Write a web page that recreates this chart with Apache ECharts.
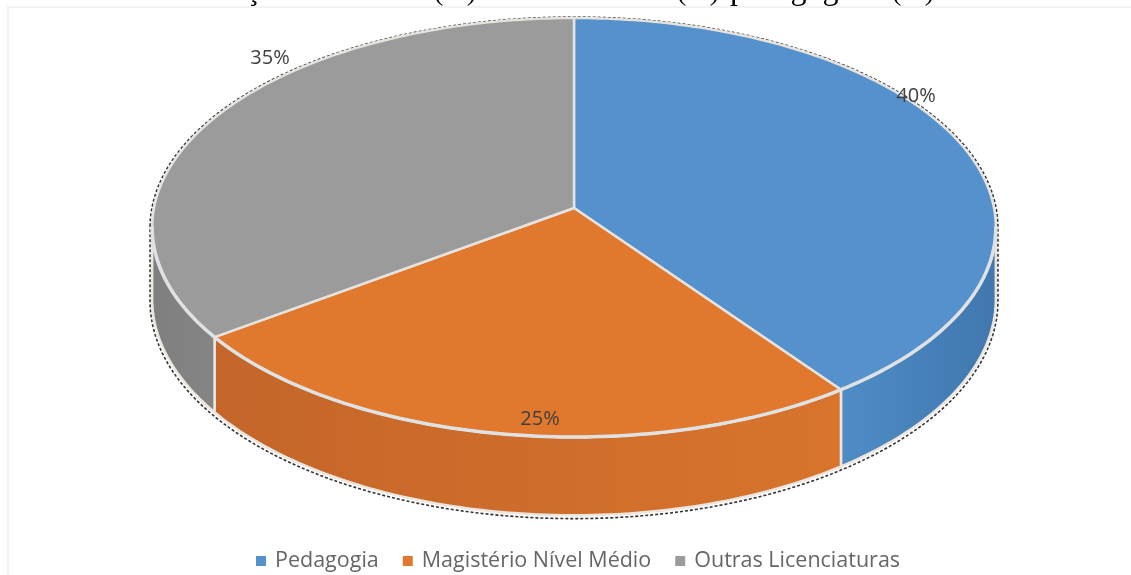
<!DOCTYPE html>
<html>
<head>
<meta charset="utf-8">
<title>Formação</title>
<script src="https://cdn.jsdelivr.net/npm/echarts@6/dist/echarts.min.js"></script>
<style>
  html, body { margin: 0; padding: 0; background: #fff; }
  #main { width: 1131px; height: 575px; }
</style>
</head>
<body>
<div id="main"></div>
<script>
var categories = ['Pedagogia', 'Magistério Nível Médio', 'Outras Licenciaturas'];
var shareValues = [40, 25, 35];

// aparencia
var topColors = ['#5592cd', '#e0782d', '#9b9b9b'];
var wallColors = [['#4f8cc6', '#4077ae'], ['#c4662a', '#d8742c'], ['#7f7f7f', '#858585']];
var labelSpots = [[916, 96], [540, 419], [270, 58]];

// disco em perspectiva
var cx = 574, cy = 208, rx = 420, ry = 207.7, persp = 0.093, depth = 71;

function project(deg, lift, grow) {
  var t = deg * Math.PI / 180;
  var g = grow || 1;
  var w = 1 / (1 + persp * Math.cos(t));
  return [cx + rx * g * Math.sin(t) * w, cy - ry * g * Math.cos(t) * w + (lift || 0) * w];
}

function arc(from, to, lift, grow) {
  var pts = [];
  var n = Math.ceil(Math.abs(to - from)) + 1;
  for (var i = 0; i <= n; i++) {
    pts.push(project(from + (to - from) * i / n, lift, grow));
  }
  return pts;
}

function sliceRange(idx) {
  var total = shareValues.reduce(function (a, b) { return a + b; }, 0);
  var before = 0;
  for (var i = 0; i < idx; i++) before += shareValues[i];
  return [before / total * 360, (before + shareValues[idx]) / total * 360];
}

function renderSlice(params, api) {
  var idx = params.seriesIndex;
  var range = sliceRange(idx);
  var kids = [];
  var wallFrom = Math.max(range[0], 95), wallTo = Math.min(range[1], 265);
  if (wallTo > wallFrom) {
    kids.push({
      type: 'polygon',
      silent: true,
      shape: { points: arc(wallFrom, wallTo, 0).concat(arc(wallTo, wallFrom, depth)) },
      style: {
        fill: new echarts.graphic.LinearGradient(0, 0, 1, 0, [
          { offset: 0, color: wallColors[idx][0] },
          { offset: 1, color: wallColors[idx][1] }
        ]),
        stroke: '#ece6df',
        lineWidth: 2.5
      }
    });
  }
  kids.push({
    type: 'polygon',
    silent: true,
    shape: { points: [[cx, cy]].concat(arc(range[0], range[1], 0)) },
    style: { fill: topColors[idx], stroke: '#e6e3df', lineWidth: 2.5 }
  });
  if (wallTo > wallFrom) {
    kids.push({
      type: 'polyline',
      silent: true,
      shape: { points: arc(wallFrom, wallTo, 0) },
      style: { fill: null, stroke: '#dfe1e3', lineWidth: 3.5 }
    });
  }
  kids.push({
    type: 'text',
    silent: true,
    style: {
      text: api.value(0) + '%',
      x: labelSpots[idx][0],
      y: labelSpots[idx][1],
      align: 'center',
      verticalAlign: 'middle',
      fill: '#404040',
      font: '20px "Open Sans"'
    }
  });
  return { type: 'group', children: kids };
}

function renderOutline() {
  var pts = arc(-95, 95, 0, 1.005).concat(arc(95, 265, depth + 2, 1.005));
  return {
    type: 'polygon',
    silent: true,
    shape: { points: pts },
    style: { fill: null, stroke: '#333', lineWidth: 1.6, lineDash: [3, 2] }
  };
}

function titlePiece(text, x, size) {
  return {
    type: 'text',
    silent: true,
    style: {
      text: text,
      x: x,
      y: 7,
      align: 'left',
      verticalAlign: 'bottom',
      fill: '#000',
      font: size + 'px "Liberation Serif"'
    }
  };
}

var series = [{
  name: 'contorno',
  type: 'custom',
  coordinateSystem: 'none',
  silent: true,
  animation: false,
  renderItem: renderOutline,
  data: [[0]]
}];
categories.forEach(function (name, i) {
  series.push({
    name: name,
    type: 'custom',
    coordinateSystem: 'none',
    silent: true,
    animation: false,
    itemStyle: { color: topColors[i] },
    renderItem: function (params, api) {
      return renderSlice({ seriesIndex: i }, api);
    },
    data: [[shareValues[i]]]
  });
});

var chart = echarts.init(document.getElementById('main'));
chart.setOption({
  backgroundColor: '#fff',
  animation: false,
  legend: {
    data: categories.map(function (c) { return { name: c, icon: 'rect' }; }),
    left: 251,
    top: 545,
    itemWidth: 10,
    itemHeight: 10,
    itemGap: 24,
    textStyle: { color: '#666', fontFamily: 'Open Sans', fontSize: 21.5, padding: [0, 0, 0, 4] }
  },
  graphic: [
    { type: 'rect', silent: true, shape: { x: 7, y: 6, width: 1124, height: 2 }, style: { fill: '#f2f2f2' } },
    { type: 'rect', silent: true, shape: { x: 7, y: 6, width: 2, height: 569 }, style: { fill: '#f2f2f2' } },
    titlePiece('Formação', 168, 30),
    titlePiece('(%)', 434, 28),
    titlePiece('(%)', 677, 28),
    titlePiece('pedagogia', 730, 32),
    titlePiece('(%)', 892, 28)
  ],
  series: series
});
</script>
</body>
</html>
